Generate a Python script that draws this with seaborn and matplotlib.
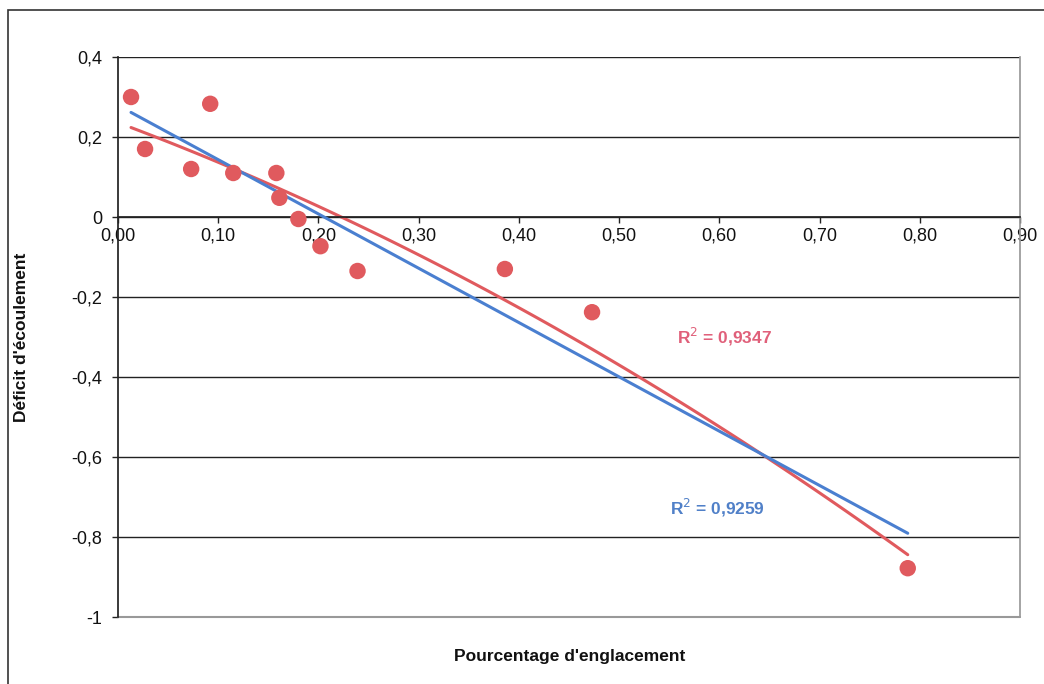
import numpy as np
import pandas as pd
import matplotlib
matplotlib.use("Agg")
import matplotlib.pyplot as plt
from matplotlib.patches import Rectangle
from matplotlib.ticker import FuncFormatter
import seaborn as sns

# Glacier cover share vs runoff deficit
englacement = [0.013, 0.027, 0.092, 0.073, 0.115, 0.158, 0.161, 0.180, 0.202, 0.239, 0.386, 0.473, 0.788]
deficit = [0.300, 0.170, 0.283, 0.120, 0.110, 0.110, 0.048, -0.005, -0.073, -0.135, -0.130, -0.238, -0.878]

r2_poly = "R$^2$ = 0,9347"
r2_lin = "R$^2$ = 0,9259"

x_ticks = [0.0, 0.1, 0.2, 0.3, 0.4, 0.5, 0.6, 0.7, 0.8, 0.9]
y_ticks = [0.4, 0.2, 0.0, -0.2, -0.4, -0.6, -0.8, -1.0]

df = pd.DataFrame({"x": englacement, "y": deficit})

sns.set_theme(style="white")
plt.rcParams["font.family"] = ["Liberation Sans", "DejaVu Sans"]

RED = "#e05a5e"
BLUE = "#4a7fd0"

fig = plt.figure(figsize=(10.44, 6.84), dpi=100)
ax = fig.add_axes([118 / 1044, 1 - 617 / 684, 902 / 1044, 560 / 684])
ax.set_facecolor("white")

# Horizontal gridlines
for yv in y_ticks:
    ax.axhline(yv, color="#222222", lw=1.0, zorder=0)

# Trend lines: quadratic (red) and linear (blue)
sns.regplot(data=df, x="x", y="y", order=2, ci=None, scatter=False, ax=ax,
            line_kws={"color": RED, "lw": 2.2, "zorder": 2})
sns.regplot(data=df, x="x", y="y", ci=None, scatter=False, ax=ax,
            line_kws={"color": BLUE, "lw": 2.2, "zorder": 3})

sns.scatterplot(data=df, x="x", y="y", ax=ax, color=RED, s=140,
                edgecolor="none", zorder=4)

ax.set_xlim(0, 0.9)
ax.set_ylim(-1, 0.4)
ax.set_xticks(x_ticks)
ax.set_yticks(y_ticks)
ax.xaxis.set_major_formatter(FuncFormatter(lambda v, p: f"{v:.2f}".replace(".", ",")))
ax.yaxis.set_major_formatter(FuncFormatter(
    lambda v, p: "0" if abs(v) < 1e-9 else ("-1" if abs(v + 1) < 1e-9 else f"{v:.1f}".replace(".", ","))))

ax.spines["bottom"].set_position(("data", 0))
ax.spines["bottom"].set_color("#222222")
ax.spines["left"].set_color("#222222")
ax.spines["top"].set_visible(False)
ax.spines["right"].set_color("#999999")
ax.tick_params(axis="both", direction="out", length=4.5, width=1, color="#222222",
               labelsize=13, labelcolor="#111111", bottom=True, left=True)
ax.tick_params(axis="x", pad=3)
ax.tick_params(axis="y", pad=7)

# Bottom border of plot area
ax.plot([0, 1], [0, 0], transform=ax.transAxes, color="#999999", lw=1.5, clip_on=False)

ax.set_xlabel("")
ax.set_ylabel("")
fig.text(570 / 1044, 1 - 657 / 684, "Pourcentage d'englacement", ha="center", va="center",
         fontsize=12.5, fontweight="bold", color="#111111")
fig.text(22 / 1044, 1 - 337 / 684, "Déficit d'écoulement", ha="center", va="center",
         rotation=90, fontsize=12.5, fontweight="bold", color="#111111")

ax.text(0.605, -0.30, r2_poly, ha="center", va="center", fontsize=12.5,
        fontweight="bold", color="#e0607a")
ax.text(0.598, -0.728, r2_lin, ha="center", va="center", fontsize=12.5,
        fontweight="bold", color="#5080c8")

# Chart area frame
fig.patches.append(Rectangle((8 / 1044, -0.05), 1.2, 1 - 10 / 684 + 0.05,
                             transform=fig.transFigure, fill=False,
                             edgecolor="#333333", lw=1.2))

fig.savefig("out.png", dpi=100)
